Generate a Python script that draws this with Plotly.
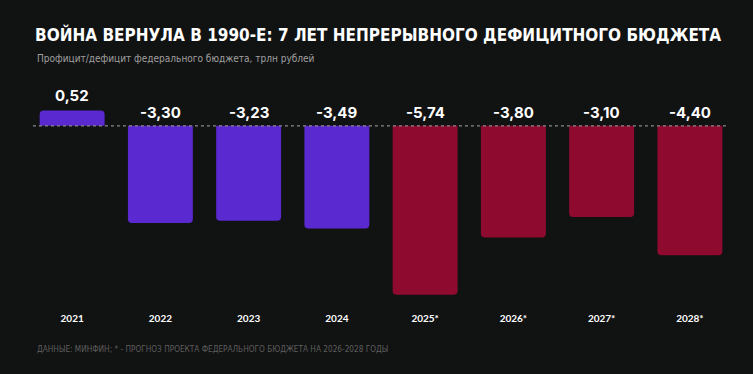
import plotly.graph_objects as go

years = ["2021", "2022", "2023", "2024", "2025*", "2026*", "2027*", "2028*"]
values = [0.52, -3.30, -3.23, -3.49, -5.74, -3.80, -3.10, -4.40]
labels = ["0,52", "-3,30", "-3,23", "-3,49", "-5,74", "-3,80", "-3,10", "-4,40"]
is_forecast = [False, False, False, False, True, True, True, True]

PURPLE = "#5a2ad0"
RED = "#8e0b2f"
BG = "#111212"

colors = [RED if f else PURPLE for f in is_forecast]

fig = go.Figure()
fig.add_trace(go.Bar(
    x=years, y=values,
    marker=dict(color=colors, line=dict(width=0), cornerradius=4),
    hoverinfo="x+y",
))

# value labels (x given as category index on the category axis)
for i, (v, lab) in enumerate(zip(values, labels)):
    fig.add_annotation(
        x=i, y=max(v, 0), xref="x", yref="y",
        text=lab, showarrow=False, yanchor="bottom", yshift=2 if v < 0 else 4,
        font=dict(family="Inter, Roboto, sans-serif", size=15, color="#ffffff", weight=700),
    )

# dotted zero line
fig.add_shape(type="line", xref="paper", yref="y", x0=0.007, x1=0.99, y0=0, y1=0,
              line=dict(color="#8a8a8a", width=1.2, dash="dot"), layer="above")

fig.update_layout(
    width=753, height=374,
    paper_bgcolor=BG, plot_bgcolor=BG,
    margin=dict(l=28, r=19, t=90, b=74),
    bargap=0.264,
    showlegend=False,
    title=dict(
        text="ВОЙНА ВЕРНУЛА В 1990-Е: 7 ЛЕТ НЕПРЕРЫВНОГО ДЕФИЦИТНОГО БЮДЖЕТА",
        xref="container", yref="container", x=35 / 753, xanchor="left",
        y=1 - 35 / 374, yanchor="middle",
        font=dict(family="DejaVu Sans Condensed, Roboto, sans-serif",
                  size=17, color="#ffffff", weight=700),
    ),
    xaxis=dict(
        type="category", showgrid=False, zeroline=False, showline=False, ticks="",
        tickfont=dict(family="Lato, Roboto, sans-serif", size=10, color="#ffffff", weight=700),
        ticklabelstandoff=11, range=[-0.5, 7.5],
    ),
    yaxis=dict(range=[-5.922, 1.218], visible=False, showgrid=False, zeroline=False),
)

fig.add_annotation(
    xref="paper", yref="paper", x=0, xshift=7, y=1 + 32 / 210, yanchor="middle", xanchor="left",
    text="Профицит/дефицит федерального бюджета, трлн рублей", showarrow=False,
    font=dict(family="DejaVu Sans Condensed, Roboto, sans-serif", size=10, color="#a0a0a0"),
)
fig.add_annotation(
    xref="paper", yref="paper", x=0, xshift=7, y=-49 / 210, yanchor="middle", xanchor="left",
    text="ДАННЫЕ: МИНФИН; * - ПРОГНОЗ ПРОЕКТА ФЕДЕРАЛЬНОГО БЮДЖЕТА НА 2026-2028 ГОДЫ", showarrow=False,
    font=dict(family="DejaVu Sans Condensed, Roboto, sans-serif", size=8.2, color="#5e5e5e"),
)

fig.write_html("out.html", config={"displayModeBar": False},
               post_script="document.body.style.margin='0';document.body.style.background='#111212';")
